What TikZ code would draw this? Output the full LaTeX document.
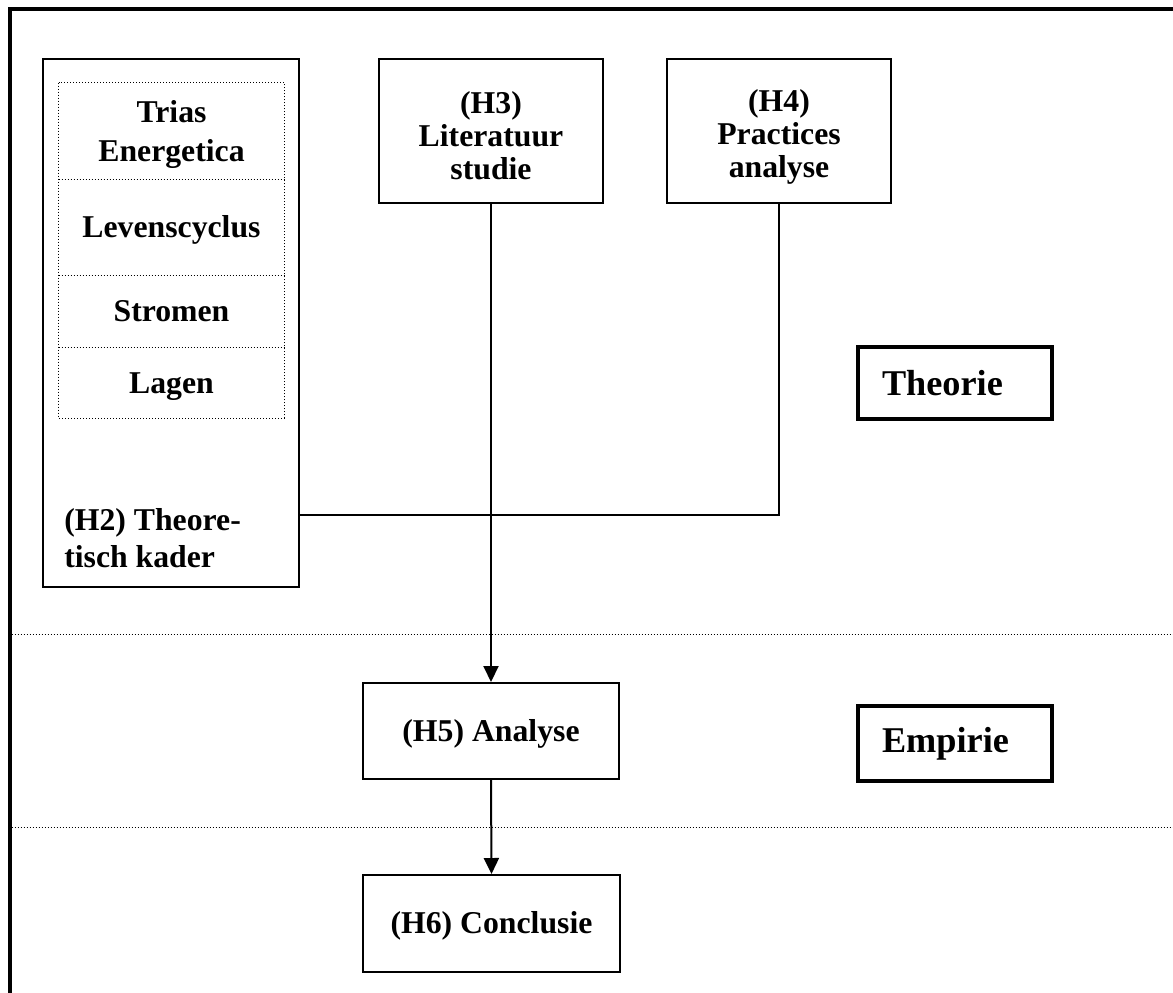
\documentclass[tikz,border=0pt]{standalone}
\usepackage{fontspec}
\setmainfont{Liberation Serif}
\usetikzlibrary{arrows.meta}
% one drawing unit = one pixel of the layout grid
\def\pxu{0.75pt}
% invisible strut that sets the height of a first text line
\def\padtop#1{\rule{0pt}{#1}}
\begin{document}
\begin{tikzpicture}[x=0.75pt, y=-0.75pt,
  every node/.style={font=\bfseries\fontsize{23.8}{24.75}\selectfont, inner sep=0pt},
  chapter/.style={draw, line width=1.5pt, align=center},
  topic/.style={align=center, minimum width=225*\pxu},
  dotline/.style={line width=0.75pt, dash pattern=on 0.75pt off 1.5pt},
  phase/.style={draw, line width=3pt, align=left, inner xsep=24*\pxu,
    text width=146*\pxu, font=\bfseries\fontsize{27.2}{30}\selectfont},
  link/.style={line width=1.5pt},
  flow/.style={link, -{Triangle[width=11.25pt, length=12pt]}}
]
\useasboundingbox (0,0) rectangle (1173,992);
\clip (0,0) rectangle (1173,992);

% outer frame (runs past the right and bottom edge)
\draw[line width=3pt] (9.5,9) rectangle (1190,1010);

% phase separators
\draw[dotline] (11.5,634) -- (1173,634);
\draw[dotline] (11.5,827) -- (1173,827);

% chapter 2: theoretical framework with its four topics
\node[chapter, minimum width=256*\pxu, minimum height=528*\pxu] (h2) at (171,323) {};
\node[topic, minimum height=96*\pxu, font=\bfseries\fontsize{23.8}{29.25}\selectfont] (trias) at (171.5,131) {\padtop{22.3pt}Trias\\Energetica};
\node[topic, minimum height=96*\pxu] (leven) at (171.5,227) {\padtop{21.5pt}Levenscyclus};
\node[topic, minimum height=72*\pxu] (stromen) at (171.5,311) {Stromen};
\node[topic, minimum height=71*\pxu] (lagen) at (171.5,382.5) {\padtop{22.3pt}Lagen};
\draw[dotline] (trias.north west) rectangle (lagen.south east);
\draw[dotline] (trias.south west) -- (trias.south east);
\draw[dotline] (leven.south west) -- (leven.south east);
\draw[dotline] (stromen.south west) -- (stromen.south east);
\node[anchor=west, align=left, font=\bfseries\fontsize{23.8}{27.75}\selectfont] (h2label) at (64,538.5) {(H2) Theore-\\tisch kader};

% chapters 3 and 4
\node[chapter, minimum width=224*\pxu, minimum height=144*\pxu] (h3) at (491,131) {\padtop{24pt}(H3)\\Literatuur\\studie};
\node[chapter, minimum width=224*\pxu, minimum height=144*\pxu] (h4) at (779,131) {\padtop{26pt}(H4)\\Practices\\analyse};

% chapters 5 and 6
\node[chapter, minimum width=256*\pxu, minimum height=96*\pxu] (h5) at (491,731) {\padtop{21.5pt}(H5) Analyse};
\node[chapter, minimum width=257*\pxu, minimum height=97*\pxu] (h6) at (491.5,923.5) {\padtop{20.7pt}(H6) Conclusie};

% phase labels
\node[phase, minimum height=72*\pxu] (theorie) at (955,383) {Theorie};
\node[phase, minimum height=75*\pxu] (empirie) at (955,743.5) {Empirie};

% connectors
\draw[link] (h4.south) |- ([yshift=-192*\pxu]h2.east);
\draw[flow] (h3.south) -- (h5.north);
\draw[flow] (h5.south) -- (h6.north);
\end{tikzpicture}
\end{document}
